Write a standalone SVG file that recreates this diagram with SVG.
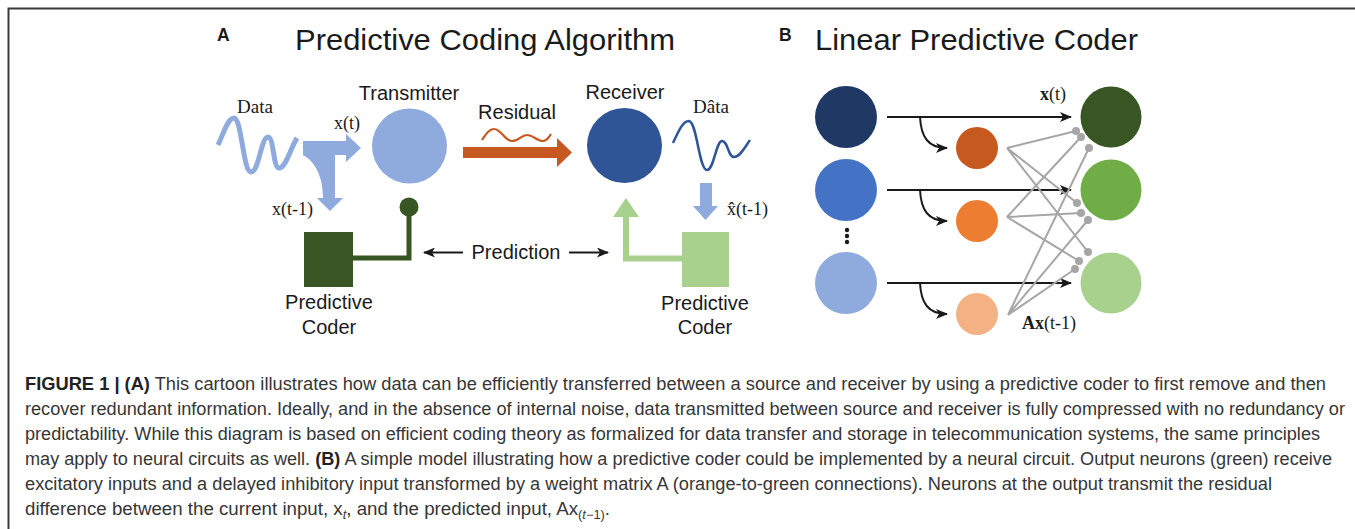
<svg xmlns="http://www.w3.org/2000/svg" width="1355" height="529" viewBox="0 0 1355 529">
  <defs>
    <style>
      .sans { font-family: "Liberation Sans", Arial, sans-serif; fill: #1a1a1a; }
      .serif { font-family: "Liberation Serif", "Times New Roman", serif; fill: #1a1a1a; }
      .title { font-size: 30px; }
      .label { font-size: 20px; }
      .panel { font-size: 17.5px; font-weight: bold; }
      .math { font-size: 18px; }
      .cap { font-family: "Liberation Sans", Arial, sans-serif; font-size: 17.5px; fill: #363636; }
      .cap .b { font-weight: bold; fill: #222222; }
      .wire { fill: none; stroke: #1a1a1a; stroke-width: 2; }
      .syn { fill: none; stroke: #a6a6a6; stroke-width: 2; }
      .dot { fill: #a6a6a6; }
    </style>
    <marker id="head" viewBox="0 0 12 10" refX="11" refY="5" markerWidth="12" markerHeight="10" markerUnits="userSpaceOnUse" orient="auto">
      <path d="M0,0 L12,5 L0,10 L3,5 Z" fill="#1a1a1a"/>
    </marker>
  </defs>

  <rect width="1355" height="529" fill="#ffffff"/>
  <!-- frame -->
  <path d="M8.5,529 V8.5 H1355" fill="none" stroke="#3a3a3a" stroke-width="2"/>

  <!-- ===== Panel A ===== -->
  <text class="sans panel" x="217" y="41">A</text>
  <text class="sans title" x="295" y="50" textLength="380" lengthAdjust="spacingAndGlyphs">Predictive Coding Algorithm</text>

  <g id="data-signal">
    <text class="serif" x="237" y="113" font-size="19">Data</text>
    <path d="M218,145 C224,132 228,118 234,118 C242,119 243,172 251,172 C259,172 261,137 268,137 C274,137 273,168 279,168 C286,168 291,147 297,138" fill="none" stroke="#8faadc" stroke-width="5" stroke-linecap="butt"/>
  </g>

  <g id="split-arrow">
    <path d="M303,141 L346,141 L346,134 L361,148 L346,162 L346,155 L335,155 L335,198 L343,198 L330,211 L317,198 L323,198 C323,178 316,162 303,155 Z" fill="#8faadc"/>
    <text class="serif math" x="334" y="129" font-size="17">x(t)</text>
    <text class="serif math" x="272" y="215">x(t-1)</text>
  </g>

  <g id="transmitter">
    <text class="sans label" x="409" y="100" text-anchor="middle">Transmitter</text>
    <circle cx="409.5" cy="146" r="37.5" fill="#8faadc"/>
  </g>

  <g id="residual">
    <text class="sans label" x="517" y="119" text-anchor="middle">Residual</text>
    <path d="M482,140 C486,134 489,129 494,129 C501,129 505,141 512,141 C519,141 521,135 527,135 C533,135 537,141 543,141 C547,141 549,137 551,134" fill="none" stroke="#c5591f" stroke-width="2.2"/>
    <path d="M463,147 L557,147 L557,138 L572,152.5 L557,167 L557,158 L463,158 Z" fill="#c5591f"/>
  </g>

  <g id="receiver">
    <text class="sans label" x="625" y="99" text-anchor="middle">Receiver</text>
    <circle cx="624.5" cy="145.5" r="37.5" fill="#2f5597"/>
  </g>

  <g id="data-estimate">
    <text class="serif" x="693" y="113" font-size="19">Dâta</text>
    <path d="M673,143 C679,130 683,121 689,121 C697,122 699,170 707,170 C714,170 716,141 722,141 C728,141 728,157 734,157 C740,157 745,147 750,140" fill="none" stroke="#2f5597" stroke-width="2.5"/>
    <path d="M700,183 L712,183 L712,206 L718,206 L705.5,220 L693,206 L700,206 Z" fill="#8faadc"/>
    <text class="serif math" x="727" y="215">x̂(t-1)</text>
  </g>

  <g id="coder-tx">
    <rect x="304" y="232" width="49" height="55" fill="#375623"/>
    <path d="M353,258 H409 V213" fill="none" stroke="#375623" stroke-width="5"/>
    <circle cx="409" cy="207" r="9.5" fill="#375623"/>
    <text class="sans label" x="329" y="309" text-anchor="middle">Predictive</text>
    <text class="sans label" x="329" y="334" text-anchor="middle">Coder</text>
  </g>

  <g id="coder-rx">
    <rect x="682" y="232" width="47" height="55" fill="#a9d18e"/>
    <path d="M682,258.5 H626 V214" fill="none" stroke="#a9d18e" stroke-width="6"/>
    <path d="M613,217 L626,198 L639,217 Z" fill="#a9d18e"/>
    <text class="sans label" x="705" y="310" text-anchor="middle">Predictive</text>
    <text class="sans label" x="705" y="334" text-anchor="middle">Coder</text>
  </g>

  <g id="prediction">
    <line class="wire" x1="463" y1="252.5" x2="424" y2="252.5" marker-end="url(#head)"/>
    <text class="sans label" x="516" y="259" text-anchor="middle">Prediction</text>
    <line class="wire" x1="569" y1="252.5" x2="608" y2="252.5" marker-end="url(#head)"/>
  </g>

  <!-- ===== Panel B ===== -->
  <text class="sans panel" x="779" y="41">B</text>
  <text class="sans title" x="815" y="50" textLength="323" lengthAdjust="spacingAndGlyphs">Linear Predictive Coder</text>

  <g id="connectors">
    <!-- feed-forward excitatory inputs -->
    <line class="wire" x1="887" y1="117" x2="1071" y2="117" marker-end="url(#head)"/>
    <line class="wire" x1="887" y1="190" x2="1071" y2="190" marker-end="url(#head)"/>
    <line class="wire" x1="887" y1="283" x2="1071" y2="283" marker-end="url(#head)"/>
    <!-- delayed copies to the predictor units -->
    <path class="wire" d="M920,117 C921,137 928,148 947,148" marker-end="url(#head)"/>
    <path class="wire" d="M920,190 C921,210 928,221 947,221" marker-end="url(#head)"/>
    <path class="wire" d="M920,283 C921,303 928,314 947,314" marker-end="url(#head)"/>
    <!-- inhibitory weights A -->
    <path class="syn" d="M1007,148 L1076,131 M1007,148 L1077,203 M1007,148 L1088,252"/>
    <path class="syn" d="M1007,217 L1081,137 M1007,217 L1081,213 M1007,217 L1079,261"/>
    <path class="syn" d="M1008,315 L1089,148 M1008,315 L1088,220 M1008,315 L1075,269"/>
    <circle class="dot" cx="1076" cy="131" r="4"/>
    <circle class="dot" cx="1081" cy="137" r="4"/>
    <circle class="dot" cx="1089" cy="148" r="4"/>
    <circle class="dot" cx="1077" cy="203" r="4"/>
    <circle class="dot" cx="1081" cy="213" r="4"/>
    <circle class="dot" cx="1088" cy="220" r="4"/>
    <circle class="dot" cx="1088" cy="252" r="4"/>
    <circle class="dot" cx="1079" cy="261" r="4"/>
    <circle class="dot" cx="1075" cy="269" r="4"/>
  </g>

  <g id="input-1"><circle cx="846" cy="117" r="31" fill="#203864"/></g>
  <g id="input-2"><circle cx="846" cy="190" r="31" fill="#4472c4"/></g>
  <g id="ellipsis">
    <circle cx="847" cy="230" r="2.2" fill="#1a1a1a"/>
    <circle cx="847" cy="236" r="2.2" fill="#1a1a1a"/>
    <circle cx="847" cy="242" r="2.2" fill="#1a1a1a"/>
  </g>
  <g id="input-3"><circle cx="846" cy="283" r="31" fill="#8faadc"/></g>

  <g id="pred-1"><circle cx="977" cy="148" r="21" fill="#c5591f"/></g>
  <g id="pred-2"><circle cx="977" cy="221" r="21" fill="#ed7d31"/></g>
  <g id="pred-3"><circle cx="977" cy="314" r="21" fill="#f4b183"/></g>

  <g id="output-1"><circle cx="1111" cy="117" r="30.5" fill="#375623"/></g>
  <g id="output-2"><circle cx="1111" cy="190" r="30.5" fill="#70ad47"/></g>
  <g id="output-3"><circle cx="1111" cy="283" r="30.5" fill="#a9d18e"/></g>

  <text class="serif math" x="1040" y="100"><tspan font-weight="bold">x</tspan>(t)</text>
  <text class="serif math" x="1022" y="329"><tspan font-weight="bold">Ax</tspan>(t-1)</text>

  <!-- ===== Caption ===== -->
  <g id="caption" class="cap">
    <text x="25" y="390" textLength="1301" lengthAdjust="spacingAndGlyphs"><tspan class="b">FIGURE 1 | (A)</tspan> This cartoon illustrates how data can be efficiently transferred between a source and receiver by using a predictive coder to first remove and then</text>
    <text x="25" y="415" textLength="1320" lengthAdjust="spacingAndGlyphs">recover redundant information. Ideally, and in the absence of internal noise, data transmitted between source and receiver is fully compressed with no redundancy or</text>
    <text x="25" y="440" textLength="1295" lengthAdjust="spacingAndGlyphs">predictability. While this diagram is based on efficient coding theory as formalized for data transfer and storage in telecommunication systems, the same principles</text>
    <text x="25" y="465" textLength="1307" lengthAdjust="spacingAndGlyphs">may apply to neural circuits as well. <tspan class="b">(B)</tspan> A simple model illustrating how a predictive coder could be implemented by a neural circuit. Output neurons (green) receive</text>
    <text x="25" y="490" textLength="1247" lengthAdjust="spacingAndGlyphs">excitatory inputs and a delayed inhibitory input transformed by a weight matrix A (orange-to-green connections). Neurons at the output transmit the residual</text>
    <text x="25" y="515" textLength="585" lengthAdjust="spacingAndGlyphs">difference between the current input, x<tspan font-size="12" dy="4" font-style="italic">t</tspan><tspan dy="-4">, and the predicted input, Ax</tspan><tspan font-size="12" dy="4">(<tspan font-style="italic">t</tspan>−1)</tspan><tspan dy="-4">.</tspan></text>
  </g>
</svg>
